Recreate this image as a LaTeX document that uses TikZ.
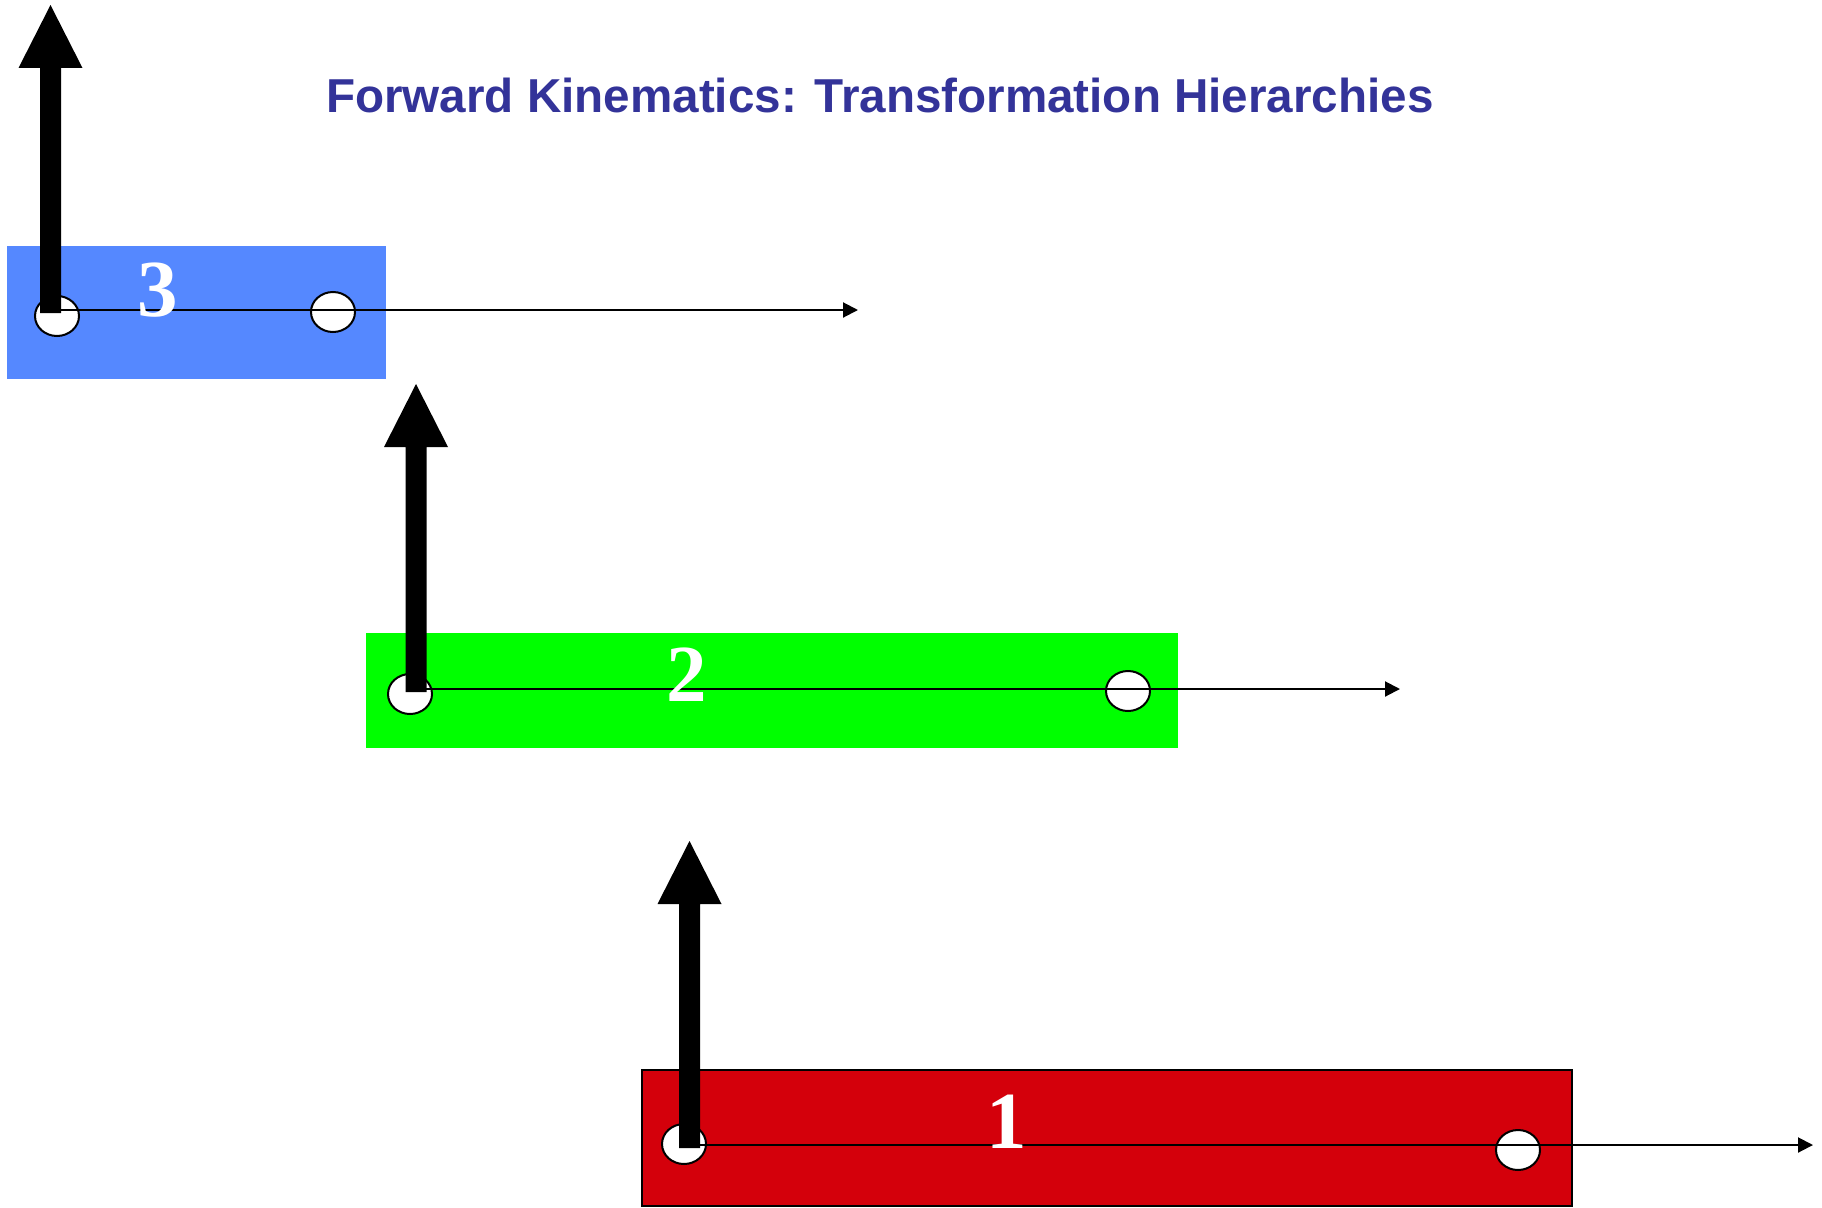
\documentclass[tikz,border=0pt]{standalone}
\usepackage{fontspec}
\setmainfont{Liberation Serif}
\newfontfamily\titlefont{Liberation Sans}
\usetikzlibrary{arrows.meta,shapes.geometric}
\definecolor{linkblue}{RGB}{85,136,255}
\definecolor{linkgreen}{RGB}{0,255,0}
\definecolor{linkred}{RGB}{212,0,11}
\definecolor{titleblue}{RGB}{51,51,153}
\newcommand\bigaxis[3]{%
  \fill[black] (#1-10.5,#2) -- (#1+10.5,#2) -- (#1+10.5,#3+63) -- (#1+32,#3+63)
    -- (#1,#3) -- (#1-32,#3+63) -- (#1-10.5,#3+63) -- cycle;}
\tikzset{
  joint/.style={ellipse, draw=black, fill=white, line width=2pt,
    minimum width=44pt, minimum height=40pt, inner sep=0pt},
  xaxis/.style={draw=black, line width=2pt, -{Triangle[length=15pt,width=15pt]}},
  linklabel/.style={anchor=base, inner sep=0pt, text=white,
    font=\fontsize{81}{81}\selectfont\bfseries},
}
\begin{document}
\begin{tikzpicture}[x=1pt,y=-1pt]
\useasboundingbox[fill=white] (0,0) rectangle (1822,1207);
% title
\node[anchor=base west, inner sep=0pt, text=titleblue,
  font=\titlefont\fontsize{47.6}{50}\selectfont\bfseries] (title) at (326,112)
  {Forward Kinematics: Transformation Hierarchies};
% ---- link 3 (blue)
\fill[linkblue] (7,246) rectangle (386,379);
\node[joint] (j3a) at (57,316) {};
\node[joint] (j3b) at (333,312) {};
\coordinate (o3) at (50.5,310);
\coordinate (e3) at (858,310);
\draw[xaxis] (o3) -- (e3);
\node[linklabel] (l3) at (158,316) {3};
\bigaxis{50.5}{313}{5}
% ---- link 2 (green)
\fill[linkgreen] (366,633) rectangle (1178,748);
\node[joint] (j2a) at (410,694) {};
\node[joint] (j2b) at (1128,691) {};
\coordinate (o2) at (416,689);
\coordinate (e2) at (1400,689);
\draw[xaxis] (o2) -- (e2);
\node[linklabel] (l2) at (687,701) {2};
\bigaxis{416}{692}{384}
% ---- link 1 (red)
\filldraw[fill=linkred, draw=black, line width=2pt] (642,1070) rectangle (1572,1205.5);
\node[joint] (j1a) at (684,1144) {};
\node[joint] (j1b) at (1518,1150) {};
\coordinate (o1) at (689.5,1145);
\coordinate (e1) at (1813,1145);
\draw[xaxis] (o1) -- (e1);
\node[linklabel] (l1) at (1007,1148) {1};
\bigaxis{689.5}{1148}{841}
\end{tikzpicture}
\end{document}
